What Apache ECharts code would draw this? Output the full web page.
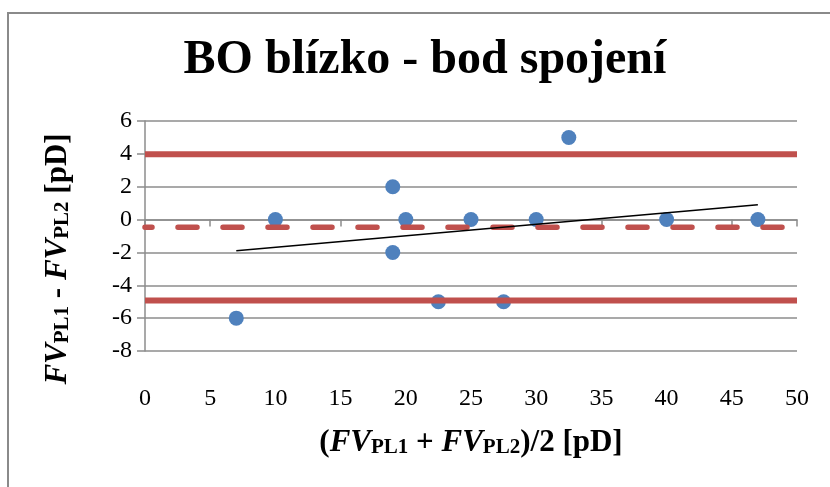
<!DOCTYPE html>
<html>
<head>
<meta charset="utf-8">
<script src="https://cdn.jsdelivr.net/npm/echarts@6/dist/echarts.min.js"></script>
<style>html,body{margin:0;padding:0;background:#fff}#c{width:830px;height:487px}</style>
</head>
<body>
<div id="c"></div>
<script>
// Data
const xValues = [7, 10, 19, 19, 20, 22.5, 25, 27.5, 30, 32.5, 40, 47];
const yValues = [-6, 0, 2, -2, 0, -5, 0, -5, 0, 5, 0, 0];
const meanDiff = -0.47;
const upperLimit = 3.97;
const lowerLimit = -4.93;
const trendX = [7, 47];
const trendY = [-1.9, 0.9];
const xRange = [0, 50];
const yRange = [-8, 6];
const titleText = 'BO blízko - bod spojení';

const FONT = '"Liberation Serif", "Times New Roman", serif';
const RED = '#C0504D';
const BLUE = '#4F81BD';
const GRID = '#8c8c8c';

const points = xValues.map((x, i) => [x, yValues[i]]);
const hLine = v => xRange.map(x => [x, v]);
const trend = trendX.map((x, i) => [x, trendY[i]]);

const richStyle = {
  i: {fontFamily: FONT, fontSize: 31, fontWeight: 'bold', fontStyle: 'italic', color: '#000', lineHeight: 36, verticalAlign: 'bottom'},
  b: {fontFamily: FONT, fontSize: 31, fontWeight: 'bold', color: '#000', lineHeight: 36, verticalAlign: 'bottom'},
  s: {fontFamily: FONT, fontSize: 21, fontWeight: 'bold', color: '#000', lineHeight: 16, verticalAlign: 'bottom'}
};

const chart = echarts.init(document.getElementById('c'), null, {renderer: 'canvas'});
chart.setOption({
  animation: false,
  backgroundColor: '#fff',
  grid: {left: 145, right: 33, top: 121, bottom: 136, containLabel: false},
  xAxis: [{
    type: 'value', min: xRange[0], max: xRange[1], interval: 5, position: 'bottom',
    axisLine: {show: false, onZero: false},
    axisTick: {show: false},
    splitLine: {show: false},
    axisLabel: {margin: 36, fontFamily: FONT, fontSize: 24, color: '#000'}
  }, {
    type: 'value', min: xRange[0], max: xRange[1], interval: 5, position: 'bottom',
    axisLine: {show: true, onZero: true, lineStyle: {color: GRID, width: 1.5}},
    axisTick: {show: true, length: 7, inside: false, lineStyle: {color: GRID, width: 1.5}},
    axisLabel: {show: false},
    splitLine: {show: false}
  }],
  yAxis: {
    type: 'value', min: yRange[0], max: yRange[1], interval: 2,
    axisLine: {show: true, lineStyle: {color: GRID, width: 1.5}},
    axisTick: {show: true, length: 8, lineStyle: {color: GRID, width: 1.5}},
    splitLine: {show: true, lineStyle: {color: GRID, width: 1.5}},
    axisLabel: {margin: 13, fontFamily: FONT, fontSize: 24, color: '#000'}
  },
  graphic: [
    {type: 'rect', shape: {x: 8, y: 13, width: 900, height: 600}, style: {fill: null, stroke: '#8a8a8a', lineWidth: 2}, z: -1, silent: true},
    {type: 'text', x: 425, y: 61, style: {text: titleText, font: 'bold 48px ' + FONT, fill: '#000', align: 'center', verticalAlign: 'middle'}},
    {type: 'text', x: 471, y: 440, style: {text: '{b|(}{i|FV}{s|PL1}{b| + }{i|FV}{s|PL2}{b|)/2 [pD]}', rich: richStyle, align: 'center', verticalAlign: 'middle'}},
    {type: 'text', x: 55, y: 259, rotation: Math.PI / 2, style: {text: '{i|FV}{s|PL1}{b| - }{i|FV}{s|PL2}{b| [pD]}', rich: richStyle, align: 'center', verticalAlign: 'middle'}}
  ],
  series: [
    {type: 'scatter', xAxisIndex: 0, data: points, symbol: 'circle', symbolSize: 15, itemStyle: {color: BLUE, opacity: 1}, z: 2},
    {type: 'line', xAxisIndex: 0, data: hLine(upperLimit), symbol: 'none', lineStyle: {color: RED, width: 6}, z: 3},
    {type: 'line', xAxisIndex: 0, data: hLine(lowerLimit), symbol: 'none', lineStyle: {color: RED, width: 6}, z: 3},
    {type: 'line', xAxisIndex: 0, data: hLine(meanDiff), symbol: 'none', lineStyle: {color: RED, width: 5.5, type: [19, 26], cap: 'round', dashOffset: 12}, z: 3},
    {type: 'line', xAxisIndex: 0, data: trend, symbol: 'none', lineStyle: {color: '#000', width: 1.5}, z: 4}
  ]
});
</script>
</body>
</html>
